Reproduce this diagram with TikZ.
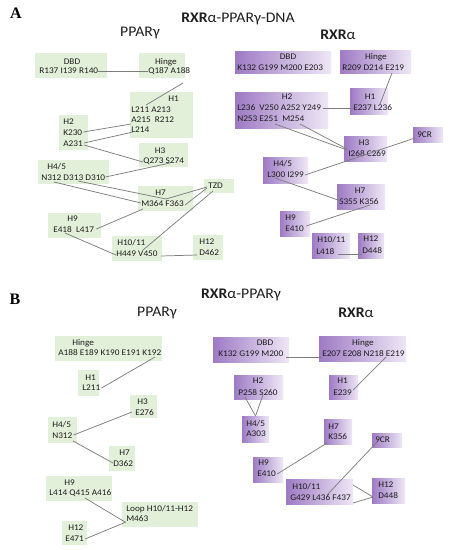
\documentclass[tikz,border=0pt]{standalone}
\usepackage{fontspec}
\setmainfont{Carlito}[FakeStretch=1.07]
\newfontfamily\lettfont{Liberation Serif}
\usetikzlibrary{calc}
\definecolor{pgr}{RGB}{226,239,217}
\definecolor{pul}{RGB}{158,122,196}
\definecolor{pur}{RGB}{238,231,246}
\definecolor{txt}{RGB}{30,30,30}
\definecolor{lnk}{RGB}{125,125,125}
\newcommand\mkbox[6]{\node[#1,anchor=north west,minimum width={(#5-#3)*0.75pt},minimum height={(#6-#4)*0.75pt}] (#2) at (#3,#4) {};}
\tikzset{
 gbox/.style={fill=pgr,draw=none,inner sep=0pt,outer sep=0pt},
 pbox/.style={left color=pul,right color=pur,draw=none,inner sep=0pt,outer sep=0pt},
 lbl/.style={font=\fontsize{6.5}{7.5}\selectfont,text=txt,inner sep=0pt,anchor=west},
 clbl/.style={lbl,anchor=center},
 lk/.style={draw=lnk,line width=0.55pt},
 ttl/.style={font=\fontsize{11}{13}\selectfont,text=txt,inner sep=0pt},
 panel/.style={font=\lettfont\bfseries\fontsize{12}{14}\selectfont,text=black,inner sep=0pt}
}
\begin{document}
\begin{tikzpicture}[x=0.75pt,y=-0.75pt]
\useasboundingbox[fill=white] (0,0) rectangle (450,550);
% ---------- panel A ----------
\node[panel] (pA) at (16,13) {A};
\node[ttl] (tA) at (238,19) {\textbf{RXR}α-PPARγ-DNA};
\node[ttl] (pparA) at (140,33) {PPARγ};
\node[ttl] (rxrA) at (338,35) {\textbf{RXR}α};
% PPARg A
\mkbox{gbox}{aDBD}{35}{53}{107}{78}
\node[clbl] (aDBDt) at (72,62) {DBD};
\node[lbl] (aR137) at (39,71) {R137 I139 R140};
\mkbox{gbox}{aHinge}{139}{53}{185}{78}
\node[clbl] (aHinget) at (166,62) {Hinge};
\node[lbl] (aQ187) at (148,71) {Q187 A188};
\mkbox{gbox}{aH1}{130}{92}{193}{138}
\node[lbl] (aH1t) at (168,99) {H1};
\node[lbl] (aL211) at (131,110) {L211 A213};
\node[lbl] (aA215) at (131,120) {A215\ \ R212};
\node[lbl] (aL214) at (131,130) {L214};
\mkbox{gbox}{aH2}{59}{115}{88}{150}
\node[lbl] (aH2t) at (63,122) {H2};
\node[lbl] (aK230) at (63,133) {K230};
\node[lbl] (aA231) at (63,144) {A231};
\mkbox{gbox}{aH3}{139}{143}{188}{167}
\node[clbl] (aH3t) at (160,151) {H3};
\node[lbl] (aQ273) at (143,161) {Q273 S274};
\mkbox{gbox}{aH45}{38}{160}{109}{184}
\node[lbl] (aH45t) at (47,167) {H4/5};
\node[lbl] (aN312) at (41,178) {N312 D313 D310};
\mkbox{gbox}{aH7}{138}{186}{193}{211}
\node[lbl] (aH7t) at (155,193) {H7};
\node[lbl] (aM364) at (141,204) {M364 F363};
\mkbox{gbox}{aTZD}{204}{179}{234}{193}
\node[lbl] (aTZDt) at (208,186) {TZD};
\mkbox{gbox}{aH9}{48}{213}{101}{238}
\node[lbl] (aH9t) at (67,219) {H9};
\node[lbl] (aE418) at (53,230) {E418\ \ L417};
\mkbox{gbox}{aH1011}{112}{236}{162}{261}
\node[lbl] (aH1011t) at (117,243) {H10/11};
\node[lbl] (aH449) at (116,254) {H449 V450};
\mkbox{gbox}{aH12}{193}{235}{223}{260}
\node[lbl] (aH12t) at (199,242) {H12};
\node[lbl] (aD462) at (199,253) {D462};
\draw[lk] (aR137.east) -- (aQ187.west);
\draw[lk] ($(aQ187.west)+(35,12)$) -- ($(aL211.west)+(15,-5)$);
\draw[lk] ($(aK230.east)+(1,-1)$) -- ($(aL214.west)+(0,-6)$);
\draw[lk] ($(aA231.east)+(1,-1)$) -- ($(aL214.west)+(2,2)$);
\draw[lk] ($(aA231.east)+(1,1)$) -- ($(aQ273.west)+(0,1)$);
\draw[lk] ($(aN312.east)+(0,-1)$) -- ($(aQ273.west)+(27,2)$);
\draw[lk] ($(aN312.west)+(13,4)$) -- ($(aM364.west)+(0,-1)$);
\draw[lk] ($(aN312.west)+(37,3)$) -- ($(aM364.west)+(25,-5)$);
\draw[lk] ($(aTZDt.west)+(-1,1)$) -- ($(aM364.west)+(25,-5)$);
\draw[lk] ($(aTZDt.west)+(-1,2)$) -- ($(aM364.east)+(1,1)$);
\draw[lk] ($(aE418.east)+(2,-1)$) -- ($(aM364.west)+(2,5)$);
\draw[lk] ($(aE418.west)+(12,3)$) -- ($(aH449.west)+(0,1)$);
\draw[lk] ($(aTZDt.west)+(5,5)$) -- ($(aH449.west)+(27,-4)$);
\draw[lk] ($(aH449.east)+(3,2)$) -- ($(aD462.west)+(-2,2)$);
% RXRa A
\mkbox{pbox}{rDBD}{235}{51}{331}{73}
\node[clbl] (rDBDt) at (288,57) {DBD};
\node[lbl] (rK132) at (237,68) {K132 G199 M200 E203};
\mkbox{pbox}{rHinge}{340}{50}{411}{73}
\node[clbl] (rHinget) at (376,57) {Hinge};
\node[lbl] (rR209) at (342,68) {R209 D214 E219};
\mkbox{pbox}{rH1}{350}{88}{388}{114}
\node[clbl] (rH1t) at (370,97) {H1};
\node[lbl] (rE237) at (353,108) {E237 L236};
\mkbox{pbox}{rH2}{235}{92}{328}{128}
\node[clbl] (rH2t) at (287,97) {H2};
\node[lbl] (rL236) at (237,108) {L236\ \ V250 A252 Y249};
\node[lbl] (rN253) at (237,119) {N253 E251\ \ M254};
\mkbox{pbox}{rH3}{344}{136}{387}{161}
\node[clbl] (rH3t) at (364,143) {H3};
\node[lbl] (rI268) at (348,154) {I268 C269};
\mkbox{pbox}{r9CR}{413}{127}{443}{142}
\node[lbl] (r9CRt) at (417,135) {9CR};
\mkbox{pbox}{rH45}{263}{157}{308}{183}
\node[lbl] (rH45t) at (273,164) {H4/5};
\node[lbl] (rL300) at (267,175) {L300 I299};
\mkbox{pbox}{rH7}{337}{184}{385}{209}
\node[clbl] (rH7t) at (360,191) {H7};
\node[lbl] (rS355) at (339,202) {S355 K356};
\mkbox{pbox}{rH9}{280}{211}{310}{236}
\node[lbl] (rH9t) at (285,218) {H9};
\node[lbl] (rE410) at (285,229) {E410};
\mkbox{pbox}{rH1011}{312}{233}{350}{258}
\node[lbl] (rH1011t) at (317,240) {H10/11};
\node[lbl] (rL418) at (316,252) {L418};
\mkbox{pbox}{rH12}{358}{233}{384}{258}
\node[lbl] (rH12t) at (363,239) {H12};
\node[lbl] (rD448) at (362,251) {D448};
\draw[lk] ($(rR209.west)+(50,5)$) -- ($(rE237.west)+(27,-4)$);
\draw[lk] ($(rL236.east)+(2,0)$) -- (rE237.west);
\draw[lk] ($(rN253.west)+(38,5)$) -- ($(rI268.west)+(-1,-4)$);
\draw[lk] ($(rN253.west)+(63,5)$) -- ($(rI268.west)+(-1,-5)$);
\draw[lk] ($(r9CRt.west)+(-2,3)$) -- ($(rL300.east)+(1,0)$);
\draw[lk] ($(rL300.west)+(8,3)$) -- ($(rS355.west)+(2,-1)$);
\draw[lk] ($(rE410.east)+(2,-3)$) -- ($(rS355.west)+(31,3)$);
\draw[lk] ($(rL418.east)+(3,2)$) -- ($(rD448.west)+(0,3)$);
% ---------- panel B ----------
\node[panel] (pB) at (15,299) {B};
\node[ttl] (tB) at (241,295) {\textbf{RXR}α-PPARγ};
\node[ttl] (pparB) at (157,313) {PPARγ};
\node[ttl] (rxrB) at (356,313) {\textbf{RXR}α};
% PPARg B
\mkbox{gbox}{bHinge}{55}{336}{162}{361}
\node[lbl] (bHinget) at (72,343) {Hinge};
\node[lbl] (bA188) at (58,353) {A188 E189 K190 E191 K192};
\mkbox{gbox}{bH1}{78}{370}{99}{396}
\node[lbl] (bH1t) at (85,378) {H1};
\node[lbl] (bL211) at (82,388) {L211};
\mkbox{gbox}{bH3}{130}{395}{157}{418}
\node[lbl] (bH3t) at (137,402) {H3};
\node[lbl] (bE276) at (135,413) {E276};
\mkbox{gbox}{bH45}{48}{417}{77}{443}
\node[lbl] (bH45t) at (52,425) {H4/5};
\node[lbl] (bN312) at (52,436) {N312};
\mkbox{gbox}{bH7}{109}{446}{135}{471}
\node[lbl] (bH7t) at (119,453) {H7};
\node[lbl] (bD362) at (113,464) {D362};
\mkbox{gbox}{bH9}{46}{476}{112}{501}
\node[lbl] (bH9t) at (64,483) {H9};
\node[lbl] (bL414) at (49,493) {L414 Q415 A416};
\mkbox{gbox}{bLoop}{122}{502}{198}{527}
\node[lbl] (bLoopt) at (126,509) {Loop H10/11-H12};
\node[lbl] (bM463) at (126,519) {M463};
\mkbox{gbox}{bH12}{62}{521}{87}{545}
\node[lbl] (bH12t) at (68,528) {H12};
\node[lbl] (bE471) at (65,539) {E471};
\draw[lk] ($(bA188.west)+(97,4)$) -- ($(bL211.east)+(1,0)$);
\draw[lk] ($(bN312.east)+(1,-1)$) -- ($(bE276.west)+(-3,-1)$);
\draw[lk] ($(bN312.west)+(21,5)$) -- ($(bD362.west)+(0,-1)$);
\draw[lk] ($(bL414.west)+(36,5)$) -- ($(bM463.west)+(-1,3)$);
\draw[lk] ($(bE471.east)+(1,0)$) -- ($(bM463.west)+(0,3)$);
% RXRa B
\mkbox{pbox}{sDBD}{213}{337}{289}{362}
\node[clbl] (sDBDt) at (265,343) {DBD};
\node[lbl] (sK132) at (218,354) {K132 G199 M200};
\mkbox{pbox}{sHinge}{319}{336}{406}{361}
\node[clbl] (sHinget) at (363,343) {Hinge};
\node[lbl] (sE207) at (322,354) {E207 E208 N218 E219};
\mkbox{pbox}{sH2}{234}{375}{283}{399}
\node[clbl] (sH2t) at (258,381) {H2};
\node[lbl] (sP258) at (238,393) {P258 S260};
\mkbox{pbox}{sH1}{329}{375}{358}{399}
\node[lbl] (sH1t) at (337,381) {H1};
\node[lbl] (sE239) at (333,393) {E239};
\mkbox{pbox}{sH45}{242}{416}{269}{442}
\node[lbl] (sH45t) at (246,424) {H4/5};
\node[lbl] (sA303) at (246,434) {A303};
\mkbox{pbox}{sH7}{324}{419}{352}{444}
\node[lbl] (sH7t) at (328,427) {H7};
\node[lbl] (sK356) at (328,437) {K356};
\mkbox{pbox}{s9CR}{372}{433}{402}{447}
\node[lbl] (s9CRt) at (375,440) {9CR};
\mkbox{pbox}{sH9}{253}{457}{283}{482}
\node[lbl] (sH9t) at (258,463) {H9};
\node[lbl] (sE410) at (257,474) {E410};
\mkbox{pbox}{sH1011}{286}{479}{353}{504}
\node[lbl] (sH1011t) at (292,487) {H10/11};
\node[lbl] (sG429) at (290,498) {G429 L436 F437};
\mkbox{pbox}{sH12}{372}{478}{405}{503}
\node[lbl] (sH12t) at (378,485) {H12};
\node[lbl] (sD448) at (378,496) {D448};
\draw[lk] ($(sK132.east)+(2,3)$) -- ($(sE207.west)+(0,3)$);
\draw[lk] ($(sE207.west)+(64,3)$) -- ($(sE239.east)+(1,-3)$);
\draw[lk] ($(sP258.west)+(7,4)$) -- (sH45.north);
\draw[lk] ($(sP258.west)+(25,2)$) -- (sH45.north);
\draw[lk] ($(sE410.east)+(1,0)$) -- ($(sK356.west)+(-1,6)$);
\draw[lk] ($(s9CRt.west)+(2,2)$) -- ($(sG429.west)+(37,-3)$);
\draw[lk] ($(sH1011.north east)+(0,6)$) -- ($(sD448.west)+(-5,1)$);
\draw[lk] ($(sH1011.south east)+(0,-1)$) -- ($(sD448.west)+(-5,1)$);
\end{tikzpicture}
\end{document}
